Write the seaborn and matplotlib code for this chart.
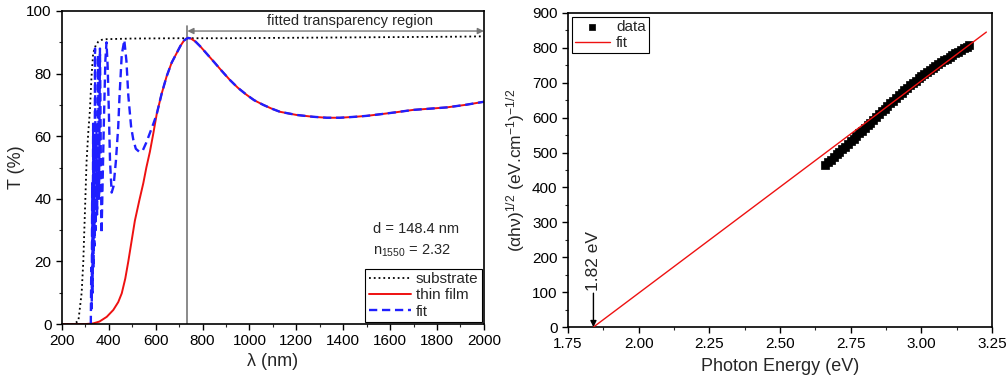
import numpy as np
import pandas as pd
import matplotlib
matplotlib.use('Agg')
import matplotlib.pyplot as plt
from matplotlib.ticker import MultipleLocator
import seaborn as sns

# transmission spectra
sub_lam = [200, 250, 270, 284, 291, 298, 305, 312, 319, 326, 333, 344, 355, 370, 391, 500, 700, 900,
           1100, 1300, 1500, 1700, 1900, 2000]
sub_T = [0, 0, 1, 10, 20, 36, 52, 61, 68, 79, 86.5, 89, 90.2, 90.8, 91, 91.2, 91.3, 91.3,
         91.4, 91.5, 91.6, 91.7, 91.8, 91.9]

film_lam = [200, 250, 300, 333, 360, 391, 419, 440, 455, 470, 483, 497, 511, 530, 547, 560, 575, 590,
            604, 625, 646, 668, 689, 705, 720, 730, 739, 750, 770, 790, 810, 830, 850, 880, 916, 950, 988,
            1020, 1059, 1095, 1130, 1200, 1272, 1330, 1386, 1450, 1500, 1556, 1620, 1698, 1770, 1841, 1920,
            2000]
film_T = [0, 0, 0, 0.2, 0.8, 2.3, 4.5, 7, 9.8, 14.5, 20, 26.5, 33, 39.5, 45, 50, 55, 61,
          67, 73.5, 79, 83.5, 86.5, 88.8, 90.5, 91.1, 91.4, 91.2, 90.2, 88.7, 87.0, 85.3, 83.6, 81, 78, 75.5,
          73.2, 71.5, 70, 68.8, 67.8, 66.8, 66.2, 65.9, 65.9, 66.2, 66.5, 67, 67.6, 68.4, 68.8, 69.2, 70, 71]

# fit below 604 nm (above it the fit follows the film curve)
fit_lam_low = [323, 325, 327, 329, 331, 333, 335, 337, 339, 341, 344, 347, 350, 354, 358, 362, 364,
               366, 369, 372, 378, 385, 390, 395, 400, 405, 412, 420, 430, 440, 445, 455, 466, 475,
               483, 495, 504, 515, 530, 545, 560, 575, 590]
fit_T_low = [0, 18, 5, 45, 10, 64, 18, 60, 25, 88, 30, 62, 35, 86, 40, 88, 72,
             50, 29, 40, 62, 84, 90, 82, 68, 52, 42, 44, 52, 63, 72, 86, 90.7, 84,
             73, 63, 59, 56, 55, 55.5, 58, 61, 64]

# Tauc plot
energy = [2.66, 2.67, 2.68, 2.69, 2.70, 2.71, 2.72, 2.73, 2.74, 2.75, 2.76, 2.77, 2.78, 2.79, 2.80,
          2.81, 2.82, 2.83, 2.84, 2.85, 2.86, 2.87, 2.88, 2.89, 2.90, 2.91, 2.92, 2.93, 2.94, 2.95,
          2.96, 2.97, 2.98, 2.99, 3.00, 3.01, 3.02, 3.03, 3.04, 3.05, 3.06, 3.07, 3.08, 3.09, 3.10,
          3.11, 3.12, 3.13, 3.14, 3.15, 3.16, 3.17]
tauc = [465, 472, 480, 487, 495, 502, 510, 517, 525, 532, 540, 547, 555, 562, 570,
        578, 586, 594, 602, 610, 618, 626, 634, 641, 649, 656, 664, 671, 678, 685,
        692, 699, 706, 713, 719, 725, 731, 737, 743, 748, 754, 759, 764, 769, 774,
        779, 784, 789, 794, 798, 803, 807]
line_E = [1.84, 3.23]
line_y = [0, 845]

film = pd.DataFrame({'lam': film_lam, 'T': film_T})
tail = film[film['lam'] >= 604]
fit_lam = fit_lam_low + tail['lam'].tolist()
fit_T = fit_T_low + tail['T'].tolist()

sns.set_style('ticks')
plt.rcParams['font.family'] = ['Liberation Sans', 'DejaVu Sans']
plt.rcParams['mathtext.fontset'] = 'custom'
plt.rcParams['mathtext.rm'] = 'Liberation Sans'
plt.rcParams['mathtext.it'] = 'Liberation Sans:italic'
plt.rcParams['axes.edgecolor'] = 'black'
plt.rcParams['axes.linewidth'] = 1.2

fig = plt.figure(figsize=(10.06, 3.79), dpi=100)
ax1 = fig.add_axes([0.0616, 0.145, 0.4194, 0.826])
ax2 = fig.add_axes([0.5646, 0.137, 0.4215, 0.829])

# left panel
sns.lineplot(x=sub_lam, y=sub_T, ax=ax1, color='black', lw=1.3, linestyle=':', sort=False,
             estimator=None, label='substrate')
sns.lineplot(x=film_lam, y=film_T, ax=ax1, color='#ee1111', lw=1.4, sort=False,
             estimator=None, label='thin film')
sns.lineplot(x=fit_lam, y=fit_T, ax=ax1, color='#1f1fff', lw=1.7, linestyle=(0, (3.5, 2)),
             sort=False, estimator=None, label='fit')
ax1.set_xlim(200, 2000)
ax1.set_ylim(0, 100)
ax1.xaxis.set_major_locator(MultipleLocator(200))
ax1.xaxis.set_minor_locator(MultipleLocator(100))
ax1.yaxis.set_major_locator(MultipleLocator(20))
ax1.yaxis.set_minor_locator(MultipleLocator(10))
ax1.set_xlabel('λ (nm)', fontsize=13, labelpad=3)
ax1.set_ylabel('T (%)', fontsize=13, labelpad=1)

ax1.plot([735, 735], [0, 95.3], color='#777777', lw=1.2, zorder=1)
ax1.annotate('', xy=(735, 93.6), xytext=(2000, 93.6),
             arrowprops=dict(arrowstyle='<|-|>', color='#777777', lw=1.0, mutation_scale=9,
                             shrinkA=0, shrinkB=0))
ax1.text(1430, 96.8, 'fitted transparency region', ha='center', va='center', fontsize=10.5)
ax1.text(0.737, 0.305, 'd = 148.4 nm', transform=ax1.transAxes, fontsize=10.5, va='center')
ax1.text(0.737, 0.235, r'n$_{\mathregular{1550}}$ = 2.32', transform=ax1.transAxes, fontsize=10.5,
         va='center')
leg1 = ax1.legend(loc='lower right', bbox_to_anchor=(1.0, 0.0), fontsize=11, frameon=True, fancybox=False,
                  edgecolor='black', framealpha=1, borderpad=0.2, labelspacing=0.15, handlelength=2.8,
                  handletextpad=0.3, borderaxespad=0.15)
leg1.get_frame().set_linewidth(0.8)

# right panel
sns.scatterplot(x=energy, y=tauc, ax=ax2, marker='s', s=38, color='black', edgecolor='black',
                linewidth=0.5, label='data', zorder=2)
sns.lineplot(x=line_E, y=line_y, ax=ax2, color='#ee1111', lw=1.0, sort=False, estimator=None,
             label='fit', zorder=3)
ax2.set_xlim(1.75, 3.25)
ax2.set_ylim(0, 900)
ax2.xaxis.set_major_locator(MultipleLocator(0.25))
ax2.xaxis.set_minor_locator(MultipleLocator(0.125))
ax2.yaxis.set_major_locator(MultipleLocator(100))
ax2.yaxis.set_minor_locator(MultipleLocator(50))
ax2.xaxis.set_major_formatter(plt.FormatStrFormatter('%.2f'))
ax2.set_xlabel('Photon Energy (eV)', fontsize=13, labelpad=5)
ax2.set_ylabel(r'(αhν)$^{\mathregular{1/2}}$ (eV.cm$^{\mathregular{-1}}$)$^{\mathregular{-1/2}}$', fontsize=12.5)
ax2.annotate('', xy=(1.84, 0), xytext=(1.84, 97),
             arrowprops=dict(arrowstyle='-|>', color='black', lw=1.0, mutation_scale=9,
                             shrinkA=0, shrinkB=0))
ax2.text(1.84, 190, '1.82 eV', rotation=90, ha='center', va='center', fontsize=12.5)
leg2 = ax2.legend(loc='upper left', fontsize=11, frameon=True, fancybox=False, edgecolor='black',
                  framealpha=1, borderpad=0.2, labelspacing=0.15, handlelength=2.3, handletextpad=0.4,
                  borderaxespad=0.25, markerscale=0.8)
leg2.get_frame().set_linewidth(0.8)

for ax in (ax1, ax2):
    ax.tick_params(which='major', direction='out', length=4, width=1.0, labelsize=11, top=False,
                   right=False, colors='black')
    ax.tick_params(which='minor', direction='out', length=2.5, width=0.8, top=False, right=False)
    for sp in ax.spines.values():
        sp.set_visible(True)
        sp.set_color('black')

fig.savefig('out.png', dpi=100)
